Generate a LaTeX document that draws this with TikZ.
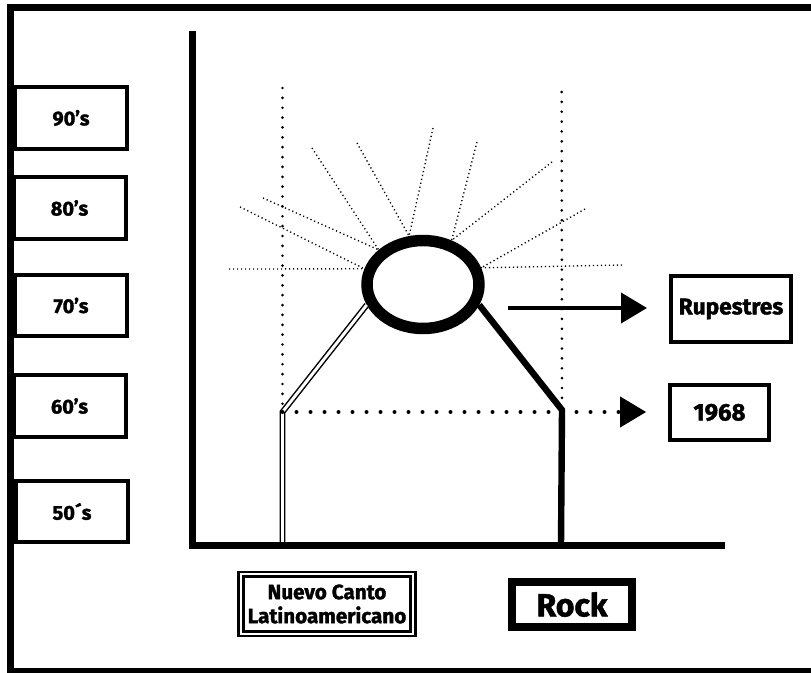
\documentclass[tikz,border=0pt]{standalone}
\usepackage{fontspec}
\setmainfont{Fira Sans}[BoldFeatures={FakeBold=1.6}]
\usetikzlibrary{shapes.geometric,arrows.meta}

\tikzset{every picture/.style={line width=0.75pt}}
\tikzset{
  decade/.style={draw, line width=3pt, minimum width=84pt, minimum height=46pt, inner sep=0pt, font=\fontsize{15}{18}\selectfont\bfseries},
  tag/.style={draw, line width=3pt, inner sep=0pt, font=\bfseries},
  sunring/.style={ellipse, draw, line width=8.6pt, minimum width=84pt, minimum height=66pt, inner sep=0pt},
  ray/.style={line width=1pt, dash pattern=on 0.9pt off 2.1pt},
  bigdots/.style={line width=2.2pt, line cap=round, dash pattern=on 0pt off 7.4pt},
  hugedots/.style={line width=3pt, line cap=round, dash pattern=on 0pt off 10.5pt},
  bigtip/.style={-{Triangle[length=19.5pt,width=22.5pt]}, shorten >=16.5pt}
}

\begin{document}
\begin{tikzpicture}[x=0.75pt,y=0.75pt,yscale=-1,xscale=1]
\useasboundingbox (0,0) rectangle (811,673);

%Frame
\draw[line width=5.25pt] (10.5,7.5) rectangle (840,671.5);

%Sun ellipse
\node[sunring] (sun) at (423,284.5) {};

%Corners and feet
\coordinate (lcorner) at (282.5,412);
\coordinate (rcorner) at (562,410);
\coordinate (lfoot) at (282.5,546);
\coordinate (rfoot) at (561,546);
\coordinate (arrstart) at (508,308);

% Text Node
\node[decade] (d90) at (71,118) {90’s};
% Text Node
\node[decade] (d80) at (69.5,208) {80’s};
% Text Node
\node[decade] (d70) at (71,305.5) {70’s};
% Text Node
\node[decade] (d60) at (69.5,406) {60’s};
% Text Node
\node[decade] (d50) at (72,511.5) {50´s};
% Text Node
\node[tag, minimum width=90pt, minimum height=49.5pt, font=\fontsize{17}{20}\selectfont\bfseries] (rup) at (731,309) {Rupestres};
% Text Node
\node[tag, minimum width=74pt, minimum height=41pt, font=\fontsize{18}{21}\selectfont\bfseries] (yr) at (719.5,412.5) {1968};
% Text Node
\node[tag, line width=5.8pt, minimum width=90pt, minimum height=34pt, font=\fontsize{24}{28}\selectfont\bfseries] (rock) at (572,604.5) {Rock};
% Text Node
\node[draw, double, line width=2pt, double distance=1.5pt, minimum width=129pt, minimum height=44.3pt, inner sep=0pt, align=center, font=\fontsize{15.5}{18}\selectfont\bfseries] (nuevo) at (327,604) {Nuevo Canto\\Latinoamericano};

%Rays
\foreach \ang/\px/\py in {165/229/269, 165/240/207, 142/263/198, 142/312/148, 106/357/143, 106/433/128, 57/477/142, 57/552/162, 16/585/209, 16/622/265}
  \draw[ray] (\px,\py) -- (sun.\ang);

%Dotted guides
\draw[bigdots] (282.5,88) -- (lcorner);
\draw[bigdots] (561.7,92) -- (rcorner);

%Legs
\draw[double, line width=1.1pt, double distance=2.2pt] (sun.200) -- (lcorner) -- (lfoot);
\draw[line width=4.8pt] (sun.340) -- (rcorner) -- (rfoot);

%Arrows
\draw[line width=3pt, bigtip] (arrstart) -- (arrstart -| rup.west);
\draw[hugedots, bigtip] (lcorner) -- (lcorner -| yr.west);

%Axes
\draw[line width=5.25pt] (192.5,31) -- (192.5,546) -- (725,546);

\end{tikzpicture}
\end{document}
